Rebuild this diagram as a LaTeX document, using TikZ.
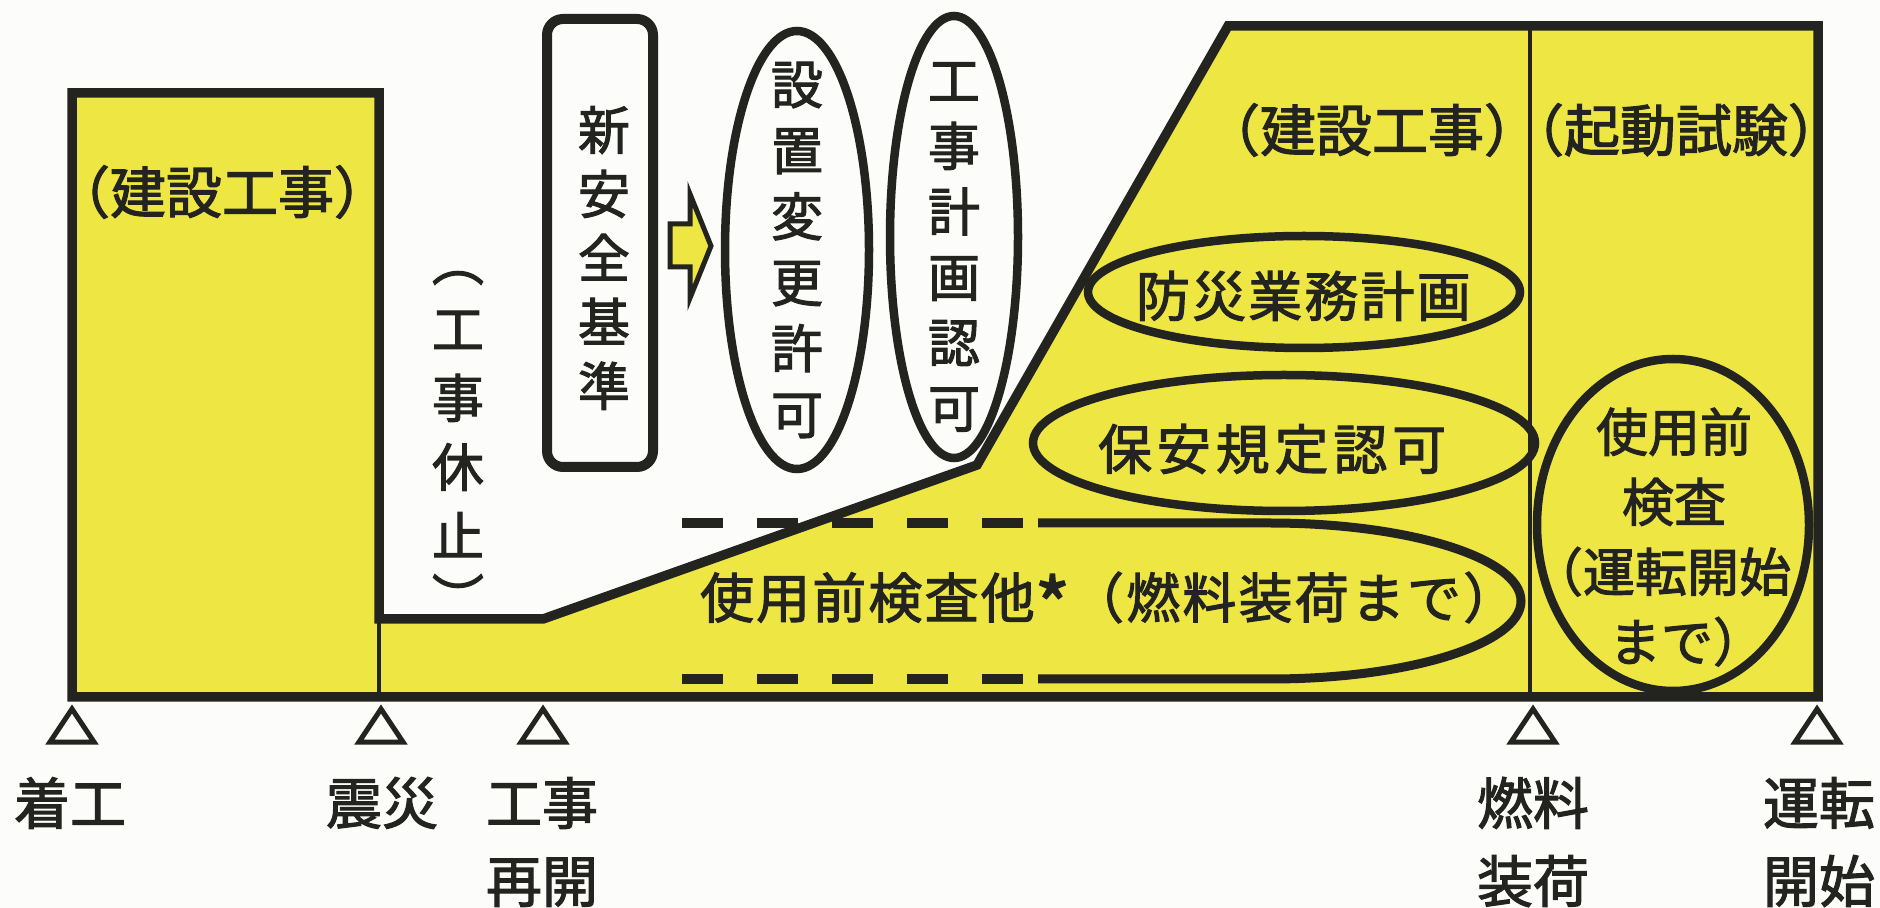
\documentclass[tikz,border=0pt]{standalone}
\usepackage{graphicx}
\usepackage{fontspec}
\setmainfont{Noto Sans CJK JP}[FakeBold=2]
\newfontfamily\jpB{Noto Sans CJK JP}[FakeBold=2,LetterSpace=4]
\newfontfamily\jpC{Noto Sans CJK JP}[FakeBold=2,LetterSpace=9]
\usetikzlibrary{shapes.geometric}
\definecolor{ylw}{RGB}{238,230,66}
\definecolor{ink}{RGB}{35,35,32}
\definecolor{paper}{RGB}{252,252,250}
\begin{document}
\begin{tikzpicture}[x=0.5pt,y=-0.5pt,
  every node/.style={text=ink, inner sep=0pt, outer sep=0pt},
  oval/.style={draw=ink, line width=4.25pt, ellipse, inner sep=0pt},
  outline/.style={draw=ink, line width=4.75pt, line join=miter},
  thin/.style={draw=ink, line width=2pt},
  milestone/.style={draw=ink, line width=2.5pt, fill=paper, line join=miter},
  dashline/.style={draw=ink, line width=5pt, dash pattern=on 20.5pt off 17pt},
  big/.style={font=\fontsize{28}{34}\selectfont},
  mid/.style={font=\fontsize{27}{33}\selectfont},
  lab/.style={font=\fontsize{28}{39}\selectfont, align=center}
]
\useasboundingbox (0,0) rectangle (1880,908);
\fill[paper] (0,0) rectangle (1880,908);

% main yellow area
\path[outline, fill=ylw] (72,93) -- (379,93) -- (379,619) -- (543,619) -- (977,465)
  -- (1228,26) -- (1818,26) -- (1818,697) -- (72,697) -- cycle;
\coordinate (stepTop) at (379,619);
\coordinate (stepBot) at (379,697);
\coordinate (divTop) at (1530,26);
\coordinate (divBot) at (1530,697);
\draw[thin] (stepTop) -- (stepBot);
\draw[thin] (divTop) -- (divBot);

% fuel-loading ellipse (partly dashed)
\coordinate (fA) at (682,523);
\coordinate (fB) at (1023,523);
\coordinate (fC) at (682,679);
\coordinate (fD) at (1023,679);
\draw[dashline] (fA) -- (fB);
\draw[dashline] (fC) -- (fD);
\draw[draw=ink, line width=4.5pt] (1038,523) -- (1270,523)
  arc[start angle=-90, end angle=90, x radius=251, y radius=78] -- (1038,679);

% rounded box and arrow
\node[draw=ink, line width=5pt, rounded corners=8pt, minimum width=53pt, minimum height=224pt] (kijun) at (600,243) {};
\path[draw=ink, line width=2.5pt, fill=ylw, line join=miter] (670,224) -- (690,224) -- (690,194) -- (711,246)
  -- (690,298) -- (690,267) -- (670,267) -- cycle;

% ovals
\node[oval, minimum width=72pt, minimum height=219pt] (e1) at (797,250) {};
\node[oval, minimum width=64pt, minimum height=221pt] (e2) at (954,237) {};
\node[oval, minimum width=216pt, minimum height=56pt] (e3) at (1304,292) {};
\node[oval, minimum width=251pt, minimum height=68pt] (e4) at (1284,443) {};
\node[oval, minimum width=136pt, minimum height=166pt] (e5) at (1673,525) {};

% texts
\node[big] (t1) at (222,192) {（建設工事）};
\node[big] (t2) at (1372,130) {（建設工事）};
\node[big] (t3) at (1676,130) {（起動試験）};
\node[font=\fontsize{26}{32}\selectfont, align=center] (t4) at (604,258) {新\\安\\全\\基\\準};
\node[font=\fontsize{26}{33}\selectfont, align=center] (t5) at (e1.center) {設\\置\\変\\更\\許\\可};
\node[font=\fontsize{26}{32.75}\selectfont, align=center] (t6) at (954,247) {工\\事\\計\\画\\認\\可};
\node[font=\fontsize{26}{34.5}\selectfont, align=center] (t7) at (458,434) {工\\事\\休\\止};
\node[font=\fontsize{26}{30}\selectfont] (p1) at (458,278) {︵};
\node[font=\fontsize{26}{30}\selectfont] (p2) at (458,596) {︶};
\node[mid, anchor=west] (t8) at (1136,296) {\jpB 防災業務計画};
\node[mid, anchor=west] (t9) at (1098,449) {\jpC 保安規定認可};
\node[mid, anchor=west] (t10) at (700,603) {\jpB 使用前検査他\raisebox{-0.3em}{\scalebox{1.4}{*}}（燃料装荷まで）};
\node[font=\fontsize{26}{35}\selectfont, align=center] (t11) at (1674,537) {使用前\\検査\\\kern-0.5em（運転開始\\まで）\kern-0.5em};

% milestones
\foreach \x in {72, 381, 543, 1533, 1817} {
  \path[milestone] (\x,709) -- (\x+22,742) -- (\x-22,742) -- cycle;
}
\node[lab] (l1) at (70,803) {着工};
\node[lab] (l2) at (382,803) {震災};
\node[lab] (l3) at (542,842) {工事\\再開};
\node[lab] (l4) at (1533,842) {燃料\\装荷};
\node[lab] (l5) at (1819,842) {運転\\開始};
\end{tikzpicture}
\end{document}
